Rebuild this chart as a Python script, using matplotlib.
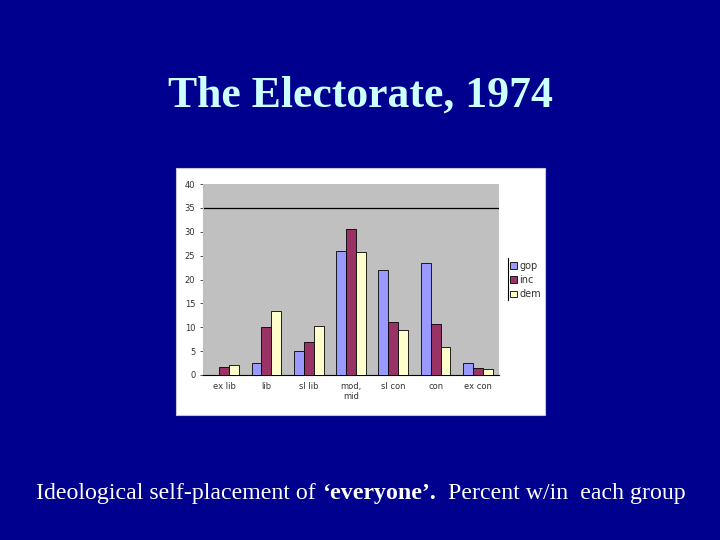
import matplotlib
matplotlib.use("Agg")
import matplotlib.pyplot as plt
import numpy as np
from matplotlib.patches import Rectangle
from matplotlib.lines import Line2D

categories = ["ex lib", "lib", "sl lib", "mod,\nmid", "sl con", "con", "ex con"]
gop = [0.0, 2.5, 5.1, 25.9, 22.0, 23.4, 2.5]
inc = [1.7, 10.0, 7.0, 30.5, 11.1, 10.7, 1.5]
dem = [2.1, 13.4, 10.2, 25.8, 9.4, 5.9, 1.25]
series_names = ["gop", "inc", "dem"]
yticks = [0, 5, 10, 15, 20, 25, 30, 35, 40]

bg = "#00008f"
fig = plt.figure(figsize=(7.2, 5.4), dpi=100, facecolor=bg)

# white chart box
box = Rectangle((176/720, 1-415/540), 369/720, 247/540,
                transform=fig.transFigure, facecolor="white",
                edgecolor="#c8c8c8", linewidth=0.8, zorder=-5)
fig.patches.append(box)

ax = fig.add_axes([203/720, 1-375/540, 296/720, 191/540])
ax.set_zorder(5)
ax.set_facecolor("#c0c0c0")
x = np.arange(len(categories))
w = 0.235
cols = ["#9999ff", "#993366", "#ffffcc"]
for i, (vals, c, n) in enumerate(zip([gop, inc, dem], cols, series_names)):
    ax.bar(x + (i - 1) * w, vals, width=w, color=c, edgecolor="black",
           linewidth=0.6, label=n, zorder=3)

ax.set_xlim(-0.5, len(categories) - 0.5)
ax.set_ylim(0, 40)
ax.set_yticks(yticks)
ax.set_yticklabels([str(t) for t in yticks])
ax.axhline(35, color="black", linewidth=0.9, zorder=2)
ax.set_xticks(x)
ax.set_xticklabels(categories)
ax.tick_params(axis="both", labelsize=6, colors="#333333", length=2, width=0.6)
ax.tick_params(axis="x", length=0, pad=5)
for s in ["top", "right"]:
    ax.spines[s].set_visible(False)
ax.spines["bottom"].set_linewidth(0.8)
ax.spines["left"].set_color("#c0c0c0")

leg = ax.legend(loc="center left", bbox_to_anchor=(1.025, 0.497), frameon=False,
                fontsize=7, handlelength=0.7, handleheight=0.7,
                handletextpad=0.25, labelspacing=0.45, borderaxespad=0)
for t in leg.get_texts():
    t.set_color("#333333")
fig.lines.append(Line2D([508/720, 508/720], [1-300/540, 1-258/540],
                        transform=fig.transFigure, color="black",
                        linewidth=0.8, zorder=10))

fig.text(0.5, 1-96/540, "The Electorate, 1974", ha="center", va="center",
         fontsize=31.5, fontweight="bold", color="#ccffff",
         family="Liberation Serif")

ybot = 1-494/540
fs = 17.2
t1 = fig.text(36/720, ybot, "Ideological self-placement of ", ha="left",
              va="center", fontsize=fs, color="white", family="Liberation Serif")
r = fig.canvas.get_renderer()
bb = t1.get_window_extent(renderer=r)
t2 = fig.text(bb.x1 / fig.bbox.width, ybot, "\u2018everyone\u2019.", ha="left",
              va="center", fontsize=fs, color="white", fontweight="bold",
              family="Liberation Serif")
bb2 = t2.get_window_extent(renderer=r)
fig.text(bb2.x1 / fig.bbox.width, ybot, "  Percent w/in  each group",
         ha="left", va="center", fontsize=fs, color="white",
         family="Liberation Serif")

fig.savefig("out.png", dpi=100, facecolor=bg)
